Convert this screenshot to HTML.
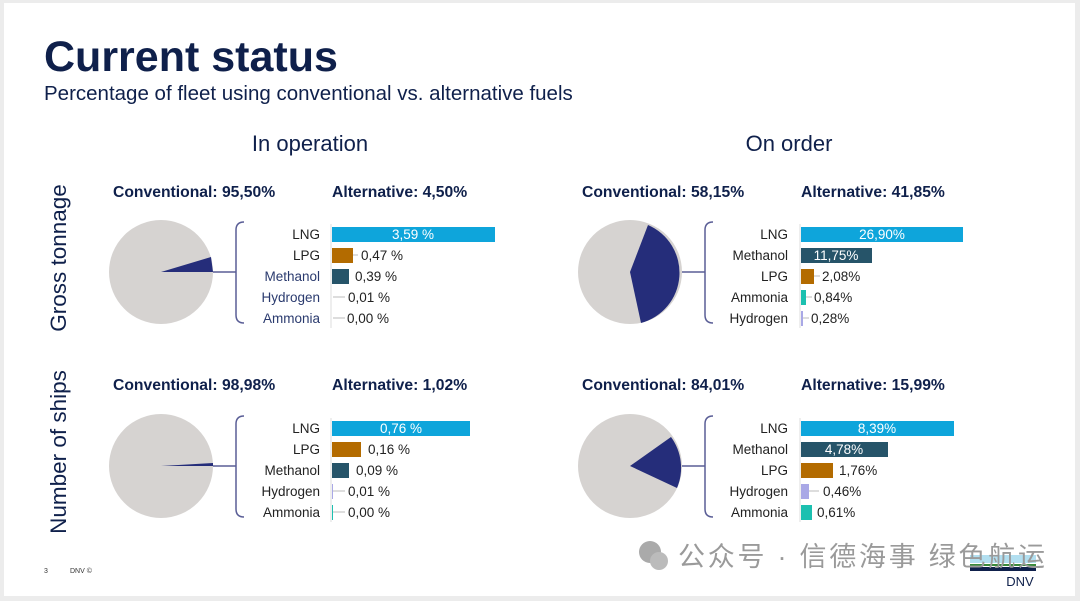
<!DOCTYPE html>
<html><head><meta charset="utf-8"><style>
body{margin:0;background:#fff;}
svg{display:block;font-family:"Liberation Sans","Noto Sans CJK SC",sans-serif;}
</style></head><body>
<svg width="1080" height="601" viewBox="0 0 1080 601">
<rect x="0" y="0" width="1080" height="601" fill="#ececec"/>
<rect x="4" y="3" width="1071" height="593" fill="#fff"/>
<text x="44" y="71" font-size="43" font-weight="bold" fill="#0f204b">Current status</text>
<text x="44" y="100" font-size="20.5" fill="#0f204b">Percentage of fleet using conventional vs. alternative fuels</text>
<text x="310" y="151" font-size="22" fill="#0f204b" text-anchor="middle">In operation</text>
<text x="789" y="151" font-size="22" fill="#0f204b" text-anchor="middle">On order</text>
<text transform="translate(66,258) rotate(-90)" font-size="22.5" fill="#0f204b" text-anchor="middle">Gross tonnage</text>
<text transform="translate(66,452) rotate(-90)" font-size="22.5" fill="#0f204b" text-anchor="middle">Number of ships</text>

<g font-size="15.7" font-weight="bold" fill="#0f204b">
<text x="113" y="197">Conventional: 95,50%</text><text x="332" y="197">Alternative: 4,50%</text>
<text x="582" y="197">Conventional: 58,15%</text><text x="801" y="197">Alternative: 41,85%</text>
<text x="113" y="390">Conventional: 98,98%</text><text x="332" y="390">Alternative: 1,02%</text>
<text x="582" y="390">Conventional: 84,01%</text><text x="801" y="390">Alternative: 15,99%</text>
</g>

<!-- pies -->
<circle cx="161" cy="272" r="52" fill="#d6d3d1"/>
<path d="M161,272 L213,272 L211,257 Z" fill="#252d7a"/>
<circle cx="630" cy="272" r="52" fill="#d6d3d1"/>
<path d="M630,272 L648,225 A52,52 0 0 1 641,323 Z" fill="#252d7a"/>
<circle cx="161" cy="466" r="52" fill="#d6d3d1"/>
<path d="M161,466 L213,466 L213,463 Z" fill="#252d7a"/>
<circle cx="630" cy="466" r="52" fill="#d6d3d1"/>
<path d="M630,466 L671,437 A52,52 0 0 1 677,488 Z" fill="#252d7a"/>

<!-- brackets -->
<g fill="none" stroke="#5a5e96" stroke-width="1.5">
<path d="M213,272 H236 M244,222 Q236,222 236,230 V315 Q236,323 244,323"/>
<path d="M682,272 H705 M713,222 Q705,222 705,230 V315 Q705,323 713,323"/>
<path d="M213,466 H236 M244,416 Q236,416 236,424 V509 Q236,517 244,517"/>
<path d="M682,466 H705 M713,416 Q705,416 705,424 V509 Q705,517 713,517"/>
</g>
<g stroke="#ddd" stroke-width="1">
<line x1="331" y1="224" x2="331" y2="328"/><line x1="800" y1="224" x2="800" y2="328"/>
<line x1="331" y1="418" x2="331" y2="522"/><line x1="800" y1="418" x2="800" y2="522"/>
</g>

<g font-size="13.5" text-anchor="end">
<text x="320" y="239" fill="#222">LNG</text><text x="320" y="260" fill="#222">LPG</text><text x="320" y="281" fill="#2a3a6e">Methanol</text><text x="320" y="302" fill="#2a3a6e">Hydrogen</text><text x="320" y="323" fill="#2a3a6e">Ammonia</text>
<text x="788" y="239" fill="#222">LNG</text><text x="788" y="260" fill="#222">Methanol</text><text x="788" y="281" fill="#222">LPG</text><text x="788" y="302" fill="#222">Ammonia</text><text x="788" y="323" fill="#222">Hydrogen</text>
<text x="320" y="433" fill="#222">LNG</text><text x="320" y="454" fill="#222">LPG</text><text x="320" y="475" fill="#222">Methanol</text><text x="320" y="496" fill="#222">Hydrogen</text><text x="320" y="517" fill="#222">Ammonia</text>
<text x="788" y="433" fill="#222">LNG</text><text x="788" y="454" fill="#222">Methanol</text><text x="788" y="475" fill="#222">LPG</text><text x="788" y="496" fill="#222">Hydrogen</text><text x="788" y="517" fill="#222">Ammonia</text>
</g>

<rect x="332" y="227" width="163" height="15" fill="#0ea5db"/>
<rect x="332" y="248" width="21" height="15" fill="#b36b00"/>
<rect x="332" y="269" width="17" height="15" fill="#265469"/>
<rect x="801" y="227" width="162" height="15" fill="#0ea5db"/>
<rect x="801" y="248" width="71" height="15" fill="#265469"/>
<rect x="801" y="269" width="13" height="15" fill="#b36b00"/>
<rect x="801" y="290" width="5" height="15" fill="#1cc0b0"/>
<rect x="801" y="311" width="2" height="15" fill="#a9a8e6"/>
<rect x="332" y="421" width="138" height="15" fill="#0ea5db"/>
<rect x="332" y="442" width="29" height="15" fill="#b36b00"/>
<rect x="332" y="463" width="17" height="15" fill="#265469"/>
<rect x="332" y="484" width="1" height="15" fill="#a9a8e6"/>
<rect x="332" y="505" width="1" height="15" fill="#1cc0b0"/>
<rect x="801" y="421" width="153" height="15" fill="#0ea5db"/>
<rect x="801" y="442" width="87" height="15" fill="#265469"/>
<rect x="801" y="463" width="32" height="15" fill="#b36b00"/>
<rect x="801" y="484" width="8" height="15" fill="#a9a8e6"/>
<rect x="801" y="505" width="11" height="15" fill="#1cc0b0"/>

<g stroke="#bbb" stroke-width="1">
<line x1="353" y1="255" x2="358" y2="255"/><line x1="333" y1="297" x2="345" y2="297"/><line x1="333" y1="318" x2="345" y2="318"/>
<line x1="814" y1="276" x2="820" y2="276"/><line x1="806" y1="297" x2="812" y2="297"/><line x1="803" y1="318" x2="809" y2="318"/>
<line x1="333" y1="491" x2="345" y2="491"/><line x1="333" y1="512" x2="345" y2="512"/>
<line x1="809" y1="491" x2="819" y2="491"/>
</g>

<g font-size="13.5" fill="#222">
<text x="413" y="239" fill="#fff" text-anchor="middle">3,59 %</text>
<text x="361" y="260">0,47 %</text><text x="355" y="281">0,39 %</text><text x="348" y="302">0,01 %</text><text x="347" y="323">0,00 %</text>
<text x="882" y="239" fill="#fff" text-anchor="middle">26,90%</text>
<text x="836" y="260" fill="#fff" text-anchor="middle">11,75%</text>
<text x="822" y="281">2,08%</text><text x="814" y="302">0,84%</text><text x="811" y="323">0,28%</text>
<text x="401" y="433" fill="#fff" text-anchor="middle">0,76 %</text>
<text x="368" y="454">0,16 %</text><text x="356" y="475">0,09 %</text><text x="348" y="496">0,01 %</text><text x="348" y="517">0,00 %</text>
<text x="877" y="433" fill="#fff" text-anchor="middle">8,39%</text>
<text x="844" y="454" fill="#fff" text-anchor="middle">4,78%</text>
<text x="839" y="475">1,76%</text><text x="823" y="496">0,46%</text><text x="817" y="517">0,61%</text>
</g>

<text x="44" y="573" font-size="7" fill="#333">3</text>
<text x="70" y="573" font-size="7" fill="#333">DNV ©</text>
<rect x="970" y="555" width="66" height="8" fill="#9fd7ec" opacity="0.8"/>
<rect x="970" y="564" width="66" height="2" fill="#3a8a3a"/>
<rect x="970" y="567" width="66" height="4" fill="#0f204b"/>
<text x="1020" y="586" font-size="13" fill="#0f204b" text-anchor="middle">DNV</text>
<circle cx="650" cy="552" r="11" fill="#aaa"/><circle cx="659" cy="561" r="9" fill="#bbb"/>
<text x="678" y="566" font-size="27" fill="#9a9a9a" textLength="367">公众号 · 信德海事 绿色航运</text>
</svg>
</body></html>
